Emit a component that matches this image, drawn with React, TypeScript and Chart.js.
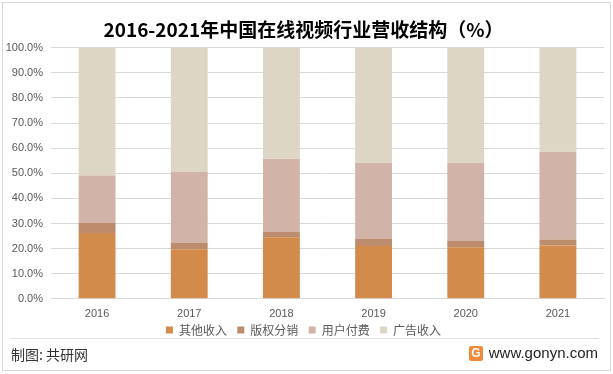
import React, { useEffect, useRef } from "react";
import { Chart, registerables } from "chart.js";

Chart.register(...registerables);

const years = ["2016", "2017", "2018", "2019", "2020", "2021"];
const otherIncome = [26.2, 19.7, 24.5, 21.0, 20.5, 21.2];
const copyrightDist = [4.1, 2.5, 2.1, 2.8, 2.5, 2.4];
const userPay = [18.8, 28.4, 29.2, 30.4, 31.2, 35.0];
const adIncome = [50.9, 49.4, 44.2, 45.8, 45.8, 41.4];
const seriesNames = ["其他收入", "版权分销", "用户付费", "广告收入"];
const seriesColors = ["#D38B4C", "#BC8C6C", "#D2B3A8", "#DDD6C4"];
const yTicks = [0, 10, 20, 30, 40, 50, 60, 70, 80, 90, 100];

const titleText = "2016-2021年中国在线视频行业营收结构（%）";
const sourceText = "制图: 共研网";
const siteText = "www.gonyn.com";

const LATIN = '"Liberation Sans", "Noto Sans CJK SC", sans-serif';
const CJK = '"Noto Sans CJK SC", "Liberation Sans", sans-serif';

export default function App() {
  const ref = useRef<HTMLCanvasElement | null>(null);

  useEffect(() => {
    document.body.style.margin = "0";
    const ctx = ref.current!.getContext("2d")!;
    const values = [otherIncome, copyrightDist, userPay, adIncome];
    const defaultGen = Chart.defaults.plugins.legend.labels.generateLabels;
    const chart = new Chart(ctx, {
      type: "bar",
      data: {
        labels: years,
        datasets: seriesNames.map((name, i) => ({
          label: name,
          data: values[i],
          backgroundColor: seriesColors[i],
          borderWidth: 0,
          categoryPercentage: 1,
          barPercentage: 0.4,
        })),
      },
      options: {
        animation: false,
        responsive: false,
        devicePixelRatio: 1,
        layout: { padding: { left: 3, right: 9, top: 0, bottom: 0 } },
        plugins: {
          title: {
            display: true,
            text: titleText,
            color: "#000000",
            font: { family: CJK, size: 19, weight: "bold" },
            padding: { top: 18, bottom: 7 },
          },
          legend: {
            position: "bottom",
            labels: {
              boxWidth: 7,
              boxHeight: 7,
              color: "#595959",
              font: { family: CJK, size: 12 },
              padding: 2,
              generateLabels: (c: any) =>
                defaultGen(c).map((it: any, i: number, arr: any[]) => ({
                  ...it,
                  text: i < arr.length - 1 ? it.text + "\u2002\u2009" : it.text,
                })),
            },
          },
          tooltip: { enabled: false },
        },
        scales: {
          x: {
            stacked: true,
            grid: { display: false },
            border: { display: true, color: "#D9D9D9" },
            ticks: { color: "#595959", font: { family: LATIN, size: 11 }, padding: 1 },
          },
          y: {
            stacked: true,
            min: 0,
            max: 100,
            afterFit: (s: any) => {
              s.width = 48;
            },
            afterBuildTicks: (s: any) => {
              s.ticks = yTicks.map((v) => ({ value: v }));
            },
            grid: { color: "#D9D9D9", lineWidth: 1, drawTicks: false },
            border: { display: false },
            ticks: {
              color: "#595959",
              font: { family: LATIN, size: 11 },
              padding: 8,
              callback: (v: any) => Number(v).toFixed(1) + "%",
            },
          },
        },
      },
    });
    return () => chart.destroy();
  }, []);

  return (
    <div style={{ position: "relative", width: 613, height: 374, background: "#fff", overflow: "hidden" }}>
      <canvas ref={ref} width={613} height={346} style={{ position: "absolute", left: 0, top: 0 }} />
      <div style={{ position: "absolute", left: 2, top: 2, width: 607, height: 367, border: "1px solid #D9D9D9" }} />
      <div style={{ position: "absolute", left: 11, top: 338, width: 588, height: 1, background: "#E0E0E0" }} />
      <div style={{ position: "absolute", left: 11, top: 343, fontFamily: CJK, fontSize: 14, color: "#333", lineHeight: "22px" }}>
        {sourceText}
      </div>
      <div style={{ position: "absolute", left: 469, top: 346, width: 14, height: 15, borderRadius: 2, background: "#F08A3C", color: "#fff", fontFamily: LATIN, fontWeight: "bold", fontSize: 12, lineHeight: "15px", textAlign: "center" }}>
        G
      </div>
      <div style={{ position: "absolute", right: 15, top: 342, fontFamily: LATIN, fontSize: 15, color: "#222", lineHeight: "22px" }}>
        {siteText}
      </div>
    </div>
  );
}
